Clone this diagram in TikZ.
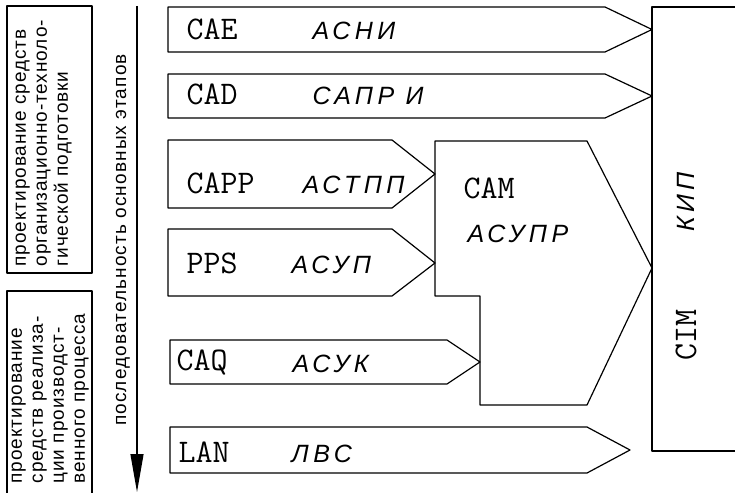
\documentclass[tikz,border=0pt]{standalone}
\usepackage{fontspec}
\setmainfont{Liberation Sans}
\usepackage{tikz}
\usetikzlibrary{arrows.meta}

\begin{document}
\begin{tikzpicture}[x=1pt,y=-1pt,line width=1.2pt,line join=round,
                    lat node/.style={anchor=base west,inner sep=0pt,font=\ttfamily\fontsize{33}{33}\selectfont\addfontfeature{LetterSpace=13}},
                    rus node/.style={anchor=base west,inner sep=0pt,font=\itshape\fontsize{25}{25}\selectfont\addfontfeature{LetterSpace=18}},
                    side node/.style={rotate=90,anchor=north west,align=left,inner sep=0pt,font=\fontsize{19}{21}\selectfont\addfontfeature{LetterSpace=5}}]
  \useasboundingbox (0,0) rectangle (735,492);

  % left column
  \draw (7,6) rectangle (92,273);
  \draw (7,493) -- (7,291) -- (92,291) -- (92,493);
  \node[side node] (orgtext) at (15,267) {проектирование средств\\организационно-техноло-\\гической подготовки};
  \node[side node] (realtext) at (11,484) {проектирование\\средств реализа-\\ции производст-\\венного процесса};

  \coordinate (seqtop) at (137,6);
  \coordinate (seqend) at (137,492);
  \draw[-{Triangle[length=38pt,width=13pt]}] (seqtop) -- (seqend);
  \node[rotate=90,inner sep=0pt,font=\fontsize{19}{22}\selectfont\addfontfeature{LetterSpace=6}] (seqtext) at (123,240) {последовательность основных этапов};

  % bands
  \draw (168,7) -- (605,7) -- (652,29.5) -- (605,52) -- (168,52) -- cycle;
  \draw (168,74) -- (605,74) -- (652,96) -- (605,118) -- (168,118) -- cycle;
  \draw (168,140) -- (392,140) -- (435,174) -- (392,208) -- (168,208) -- cycle;
  \draw (168,229) -- (392,229) -- (435,263) -- (392,296) -- (168,296) -- cycle;
  \draw (170,340) -- (447,340) -- (480,362) -- (447,384) -- (170,384) -- cycle;
  \draw (170,427) -- (587,427) -- (630,450) -- (587,473) -- (170,473) -- cycle;

  % CAM block
  \draw (435,141) -- (587,141) -- (652,268) -- (587,405) -- (480,405) -- (480,296) -- (435,296) -- cycle;

  % CIM block
  \draw (740,7) -- (652,7) -- (652,451) -- (740,451);

  \node[lat node] (cae) at (186,40) {CAE};
  \node[rus node] (asni) at (312,40) {АСНИ};
  \node[lat node] (cad) at (186,105) {CAD};
  \node[rus node] (sapr) at (312,105) {САПР И};
  \node[lat node] (capp) at (186,193) {CAPP};
  \node[rus node] (astpp) at (302,193) {АСТПП};
  \node[lat node] (pps) at (186,273) {PPS};
  \node[rus node] (asup) at (291,273) {АСУП};
  \node[lat node] (caq) at (176,370) {CAQ};
  \node[rus node] (asuk) at (292,372) {АСУК};
  \node[lat node] (lan) at (178,462) {LAN};
  \node[rus node] (lvs) at (291,462) {ЛВС};
  \node[lat node] (cam) at (463,198) {CAM};
  \node[rus node] (asupr) at (467,242) {АСУПР};
  \node[lat node,anchor=center,rotate=90] (cim) at (686,335) {CIM};
  \node[rus node,anchor=center,rotate=90] (kip) at (686,202) {КИП};
\end{tikzpicture}
\end{document}
